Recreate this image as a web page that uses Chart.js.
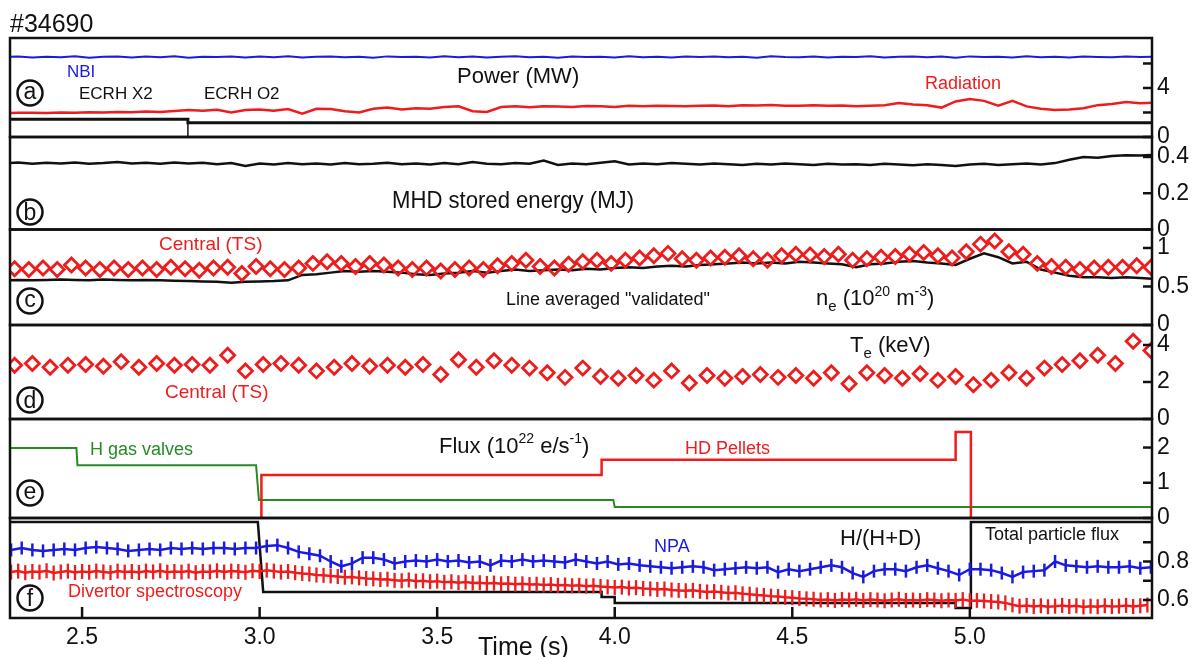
<!DOCTYPE html>
<html>
<head>
<meta charset="utf-8">
<script src="https://cdn.jsdelivr.net/npm/chart.js@4.4.1/dist/chart.umd.min.js"></script>
<style>
  html, body { margin: 0; padding: 0; background: #fff; }
  canvas { display: block; }
</style>
</head>
<body>
<canvas id="chart" width="1199" height="657"></canvas>
<script>
// Discharge #34690: six stacked time-trace panels sharing one time axis (s)

const timeMin = 2.297, timeMax = 5.513;
const timeTicks = [2.5, 3.0, 3.5, 4.0, 4.5, 5.0];

function grid(start, step, n) {
  const t = [];
  for (let i = 0; i < n; i++) t.push(+(start + step * i).toFixed(4));
  return t;
}
const traceTime = grid(2.28, 0.04, 82);
const tsNeTime = grid(2.31, 0.04, 81);
const tsTeTime = grid(2.31, 0.05, 65);
const npaTime = grid(2.30, 0.03, 108);
const divTime = grid(2.30, 0.02, 161);

// (a) heating and radiated power, MW
const nbiPower = [6.53,6.58,6.48,6.55,6.5,6.6,6.47,6.54,6.57,6.49,
  6.56,6.5,6.59,6.46,6.55,6.52,6.58,6.49,6.56,6.51,
  6.6,6.48,6.54,6.57,6.5,6.55,6.47,6.58,6.52,6.55,
  6.49,6.59,6.51,6.56,6.48,6.54,6.6,6.5,6.55,6.47,
  6.57,6.52,6.55,6.49,6.6,6.51,6.54,6.48,6.58,6.52,
  6.56,6.5,6.55,6.47,6.59,6.53,6.5,6.57,6.49,6.55,
  6.52,6.6,6.48,6.54,6.57,6.5,6.56,6.47,6.58,6.52,
  6.55,6.49,6.6,6.51,6.55,6.48,6.57,6.53,6.5,6.58,
  6.52,6.55];
const radiationPower = [1.95,1.97,1.98,1.96,2.0,1.98,2.02,2.0,2.05,2.03,
  2.08,2.05,2.12,2.2,2.15,2.22,2.0,2.2,2.25,2.15,
  2.28,1.9,2.3,2.28,2.1,2.0,2.3,2.4,2.25,2.35,
  2.3,2.45,2.5,2.1,2.05,2.45,2.5,2.42,2.5,2.48,
  2.45,2.52,2.5,2.45,2.55,2.5,2.55,2.52,2.5,2.55,
  2.58,2.5,2.6,2.58,2.62,2.55,2.55,2.6,2.55,2.58,
  2.5,2.55,2.6,2.78,2.65,2.6,2.4,2.9,3.1,2.95,
  2.55,2.95,2.5,2.3,2.2,2.25,2.35,2.6,2.7,2.85,
  2.75,2.8];
const ecrhTime = [2.28, 2.798, 2.798, 5.52];
const ecrhPower = [1.44, 1.44, 1.17, 1.17];
const ecrhO2Time = [2.28, 2.798, 2.798];
const ecrhO2Power = [0, 0, 1.17];

// (b) MHD stored energy, MJ
const storedEnergy = [0.365,0.37,0.362,0.368,0.364,0.37,0.362,0.366,0.372,0.364,
  0.368,0.362,0.37,0.364,0.368,0.36,0.366,0.35,0.364,0.358,
  0.366,0.36,0.364,0.358,0.366,0.36,0.362,0.368,0.36,0.364,
  0.358,0.366,0.36,0.372,0.363,0.36,0.366,0.362,0.38,0.356,
  0.364,0.36,0.368,0.376,0.358,0.364,0.36,0.366,0.362,0.358,
  0.364,0.36,0.356,0.362,0.358,0.364,0.36,0.356,0.362,0.358,
  0.36,0.356,0.362,0.358,0.354,0.36,0.356,0.35,0.358,0.362,
  0.356,0.36,0.364,0.358,0.366,0.385,0.4,0.395,0.405,0.41,
  0.408,0.412];

// (c) electron density, 1e20 m^-3
const lineAvgDensity = [0.58,0.585,0.58,0.585,0.59,0.585,0.58,0.59,0.585,0.58,
  0.585,0.58,0.575,0.57,0.565,0.56,0.55,0.56,0.565,0.57,
  0.58,0.65,0.66,0.68,0.7,0.69,0.7,0.69,0.68,0.66,
  0.65,0.67,0.68,0.7,0.68,0.7,0.72,0.7,0.71,0.72,
  0.71,0.73,0.72,0.74,0.75,0.74,0.76,0.77,0.76,0.78,
  0.79,0.8,0.81,0.8,0.81,0.8,0.82,0.81,0.8,0.79,
  0.75,0.79,0.8,0.82,0.83,0.81,0.8,0.78,0.86,0.93,
  0.88,0.8,0.82,0.72,0.68,0.64,0.62,0.62,0.61,0.62,
  0.61,0.6];
const centralDensity = [0.73,0.72,0.74,0.72,0.78,0.74,0.72,0.74,0.72,0.74,
  0.72,0.75,0.73,0.71,0.74,0.75,0.67,0.76,0.73,0.72,
  0.74,0.8,0.82,0.8,0.76,0.8,0.78,0.74,0.72,0.74,
  0.7,0.72,0.74,0.72,0.77,0.8,0.84,0.76,0.74,0.79,
  0.82,0.84,0.8,0.84,0.87,0.9,0.93,0.86,0.84,0.87,
  0.88,0.9,0.86,0.84,0.9,0.92,0.91,0.89,0.92,0.84,
  0.86,0.88,0.89,0.92,0.94,0.9,0.87,0.95,1.05,1.09,
  0.95,0.92,0.8,0.76,0.75,0.72,0.74,0.75,0.75,0.77,
  0.75];

// (d) central electron temperature, keV
const centralTe = [2.9,3.0,2.8,2.9,2.95,2.85,3.1,2.8,3.0,2.9,
  2.95,2.9,3.45,2.6,2.95,3.0,2.9,2.6,2.8,3.0,
  2.85,2.9,2.8,2.95,2.4,3.2,2.8,3.15,2.9,2.75,
  2.5,2.25,2.75,2.3,2.2,2.35,2.1,2.6,1.95,2.35,
  2.2,2.3,2.4,2.25,2.35,2.2,2.5,1.9,2.5,2.35,
  2.2,2.45,2.1,2.3,1.85,2.1,2.5,2.2,2.75,2.95,
  3.15,3.45,3.0,4.2,3.7];

// (e) fuelling flux, 1e22 e/s
const gasTime = [2.28, 2.484, 2.487, 2.990, 2.998, 3.996, 4.0, 5.52];
const gasFlux = [1.99, 1.99, 1.5, 1.5, 0.51, 0.51, 0.31, 0.31];
const pelletTime = [3.005, 3.005, 3.963, 3.963, 4.96, 4.96, 5.003, 5.003];
const pelletFlux = [0, 1.22, 1.22, 1.65, 1.65, 2.44, 2.44, 0];

// (f) isotope ratio H/(H+D) and total particle flux (relative)
const npaRatio = [0.86,0.87,0.86,0.855,0.86,0.865,0.86,0.87,0.875,0.87,
  0.865,0.855,0.86,0.865,0.86,0.87,0.865,0.87,0.865,0.87,
  0.87,0.865,0.87,0.87,0.88,0.885,0.87,0.85,0.84,0.83,
  0.8,0.775,0.79,0.82,0.82,0.81,0.79,0.8,0.805,0.8,
  0.81,0.8,0.805,0.795,0.8,0.78,0.805,0.8,0.81,0.8,
  0.805,0.8,0.795,0.81,0.8,0.79,0.8,0.785,0.79,0.78,
  0.775,0.77,0.765,0.77,0.775,0.77,0.755,0.76,0.765,0.77,
  0.765,0.77,0.745,0.76,0.75,0.76,0.77,0.78,0.77,0.74,
  0.72,0.75,0.76,0.76,0.75,0.77,0.78,0.765,0.75,0.73,
  0.76,0.76,0.755,0.74,0.72,0.745,0.75,0.755,0.8,0.78,
  0.775,0.77,0.775,0.77,0.77,0.775,0.765,0.77];
const divertorRatio = [0.745,0.75,0.742,0.748,0.745,0.752,0.74,0.746,0.75,0.743,
  0.748,0.744,0.75,0.746,0.742,0.75,0.745,0.748,0.743,0.75,
  0.746,0.752,0.744,0.748,0.745,0.75,0.742,0.748,0.746,0.752,
  0.745,0.75,0.748,0.744,0.752,0.748,0.755,0.75,0.745,0.748,
  0.742,0.738,0.735,0.73,0.728,0.725,0.722,0.718,0.72,0.715,
  0.712,0.71,0.706,0.708,0.702,0.7,0.704,0.698,0.7,0.695,
  0.698,0.692,0.695,0.69,0.693,0.688,0.69,0.686,0.688,0.684,
  0.686,0.682,0.684,0.68,0.682,0.678,0.68,0.676,0.678,0.674,
  0.676,0.672,0.674,0.67,0.668,0.665,0.667,0.662,0.664,0.66,
  0.658,0.655,0.657,0.652,0.65,0.648,0.65,0.645,0.642,0.644,
  0.64,0.636,0.638,0.632,0.63,0.626,0.624,0.62,0.618,0.614,
  0.612,0.608,0.606,0.604,0.6,0.602,0.598,0.603,0.6,0.604,
  0.598,0.602,0.6,0.596,0.6,0.604,0.598,0.6,0.597,0.602,
  0.6,0.596,0.6,0.598,0.602,0.596,0.598,0.595,0.592,0.59,
  0.585,0.575,0.568,0.572,0.566,0.57,0.565,0.568,0.572,0.566,
  0.57,0.564,0.568,0.565,0.57,0.566,0.568,0.572,0.566,0.57,
  0.574];
const fluxTime = [2.28, 2.995, 3.01, 3.963, 3.963, 4.0, 4.0, 4.96, 4.96, 5.003, 5.003, 5.52];
const totalFlux = [1.005, 1.005, 0.642, 0.642, 0.616, 0.616, 0.584, 0.584, 0.558, 0.558, 1.005, 1.005];

// right-hand axis ticks per panel
const ticksA = [0, 2, 4, 6], labelsA = {'0': '0', '4': '4'};
const ticksB = [0, 0.2, 0.4], labelsB = {'0': '0', '0.2': '0.2', '0.4': '0.4'};
const ticksC = [0, 0.5, 1], labelsC = {'0': '0', '0.5': '0.5', '1': '1'};
const ticksD = [0, 2, 4], labelsD = {'0': '0', '2': '2', '4': '4'};
const ticksE = [0, 1, 2], labelsE = {'0': '0', '1': '1', '2': '2'};
const ticksF = [0.6, 0.7, 0.8, 0.9], labelsF = {'0.6': '0.6', '0.8': '0.8'};

const FONT = '"Liberation Sans", Arial, sans-serif';
const ink = '#111111', red = '#ee1c1c', blue = '#1a1ae0', green = '#268a26';
Chart.defaults.font.family = FONT;

function pts(t, v) { return t.map((x, i) => ({ x, y: v[i] })); }

function panelScale(min, max, weight, ticks, labels) {
  return {
    type: 'linear', axis: 'y', position: 'right', stack: 'panels', stackWeight: weight,
    min, max,
    grid: { display: false, drawTicks: false },
    border: { display: false },
    afterBuildTicks: s => { s.ticks = ticks.map(v => ({ value: v })); },
    afterFit: s => { s.width = 47; },
    ticks: { autoSkip: false, padding: 5, color: ink, font: { size: 23 },
             callback: v => labels[String(v)] ?? '' }
  };
}

const panelIds = ['yA', 'yB', 'yC', 'yD', 'yE', 'yF'];

function line(data, yAxisID, color, width, extra) {
  return Object.assign({ type: 'line', data, yAxisID, xAxisID: 'x', borderColor: color,
    borderWidth: width, pointRadius: 0, tension: 0, fill: false }, extra || {});
}

const diamond = { showLine: false, pointStyle: 'rectRot', pointRadius: 7, pointBorderWidth: 2.8,
  pointBorderColor: red, pointBackgroundColor: 'rgba(255,255,255,0)' };

const datasets = [
  line(pts(tsNeTime, centralDensity), 'yC', red, 0, diamond),
  line(pts(traceTime, lineAvgDensity), 'yC', ink, 2.5),
  line(pts(tsTeTime, centralTe), 'yD', red, 0, diamond),
  line(pts(traceTime, nbiPower), 'yA', blue, 2),
  line(pts(traceTime, radiationPower), 'yA', red, 2.5),
  line(pts(ecrhTime, ecrhPower), 'yA', ink, 3),
  line(pts(ecrhO2Time, ecrhO2Power), 'yA', ink, 1.5),
  line(pts(traceTime, storedEnergy), 'yB', ink, 2.5),
  line(pts(pelletTime, pelletFlux), 'yE', red, 2.5),
  line(pts(gasTime, gasFlux), 'yE', green, 2),
  line(pts(npaTime, npaRatio), 'yF', blue, 2.5, { pointStyle: 'line', pointRotation: 90,
    pointRadius: 6.5, pointBorderWidth: 2.5, pointBorderColor: blue }),
  line(pts(divTime, divertorRatio), 'yF', red, 2.5, { pointStyle: 'line', pointRotation: 90,
    pointRadius: 7.5, pointBorderWidth: 2.3, pointBorderColor: red }),
  line(pts(fluxTime, totalFlux), 'yF', ink, 2.5)
];

// annotation text
const notes = [
  { text: '#34690', x: 10, y: 32, size: 25, color: ink },
  { text: 'NBI', x: 67, y: 77, size: 17, color: blue },
  { text: 'ECRH X2', x: 79, y: 99, size: 17, color: ink },
  { text: 'ECRH O2', x: 204, y: 99, size: 17, color: ink },
  { text: 'Power (MW)', x: 457, y: 83, size: 22, color: ink },
  { text: 'Radiation', x: 925, y: 89, size: 18, color: red },
  { text: 'MHD stored energy (MJ)', x: 392, y: 208, size: 24, color: ink, width: 242 },
  { text: 'Central (TS)', x: 159, y: 250, size: 19, color: red },
  { text: 'Line averaged "validated"', x: 506, y: 305, size: 18, color: ink },
  { text: 'Central (TS)', x: 165, y: 398, size: 19, color: red },
  { text: 'H gas valves', x: 90, y: 455, size: 18, color: green },
  { text: 'HD Pellets', x: 685, y: 454, size: 18, color: red },
  { text: 'NPA', x: 654, y: 552, size: 18, color: blue },
  { text: 'H/(H+D)', x: 840, y: 545, size: 22, color: ink },
  { text: 'Total particle flux', x: 985, y: 540, size: 18, color: ink },
  { text: 'Divertor spectroscopy', x: 68, y: 597, size: 18, color: red },
  { text: 'Time (s)', x: 478, y: 655, size: 25, color: ink }
];
const richNotes = [
  { x: 816, y: 305, parts: [['n', 22, 0], ['e', 15, 6], [' (10', 22, 0], ['20', 14, -9], [' m', 22, 0], ['-3', 14, -9], [')', 22, 0]] },
  { x: 850, y: 352, parts: [['T', 22, 0], ['e', 15, 6], [' (keV)', 22, 0]] },
  { x: 439, y: 453, parts: [['Flux (10', 22, 0], ['22', 14, -10], [' e/s', 22, 0], ['-1', 14, -10], [')', 22, 0]] }
];
const panelTags = [
  { letter: 'a', x: 30, y: 93 }, { letter: 'b', x: 30, y: 212 }, { letter: 'c', x: 30, y: 301 },
  { letter: 'd', x: 30, y: 400 }, { letter: 'e', x: 30, y: 493 }, { letter: 'f', x: 30, y: 598 }
];

const panelDecor = {
  id: 'panelDecor',
  beforeDraw(chart) {
    const c = chart.ctx;
    c.save(); c.fillStyle = '#fff'; c.fillRect(0, 0, chart.width, chart.height); c.restore();
  },
  afterDatasetsDraw(chart) {
    const c = chart.ctx, area = chart.chartArea;
    c.save();
    c.strokeStyle = ink; c.lineWidth = 2.5;
    panelIds.forEach(id => {
      const s = chart.scales[id];
      c.strokeRect(area.left, s.top, area.right - area.left, s.bottom - s.top);
      s.ticks.forEach(t => {
        const y = s.getPixelForValue(t.value);
        c.beginPath(); c.moveTo(area.right - 9, y); c.lineTo(area.right, y); c.stroke();
      });
    });
    const xs = chart.scales.x;
    timeTicks.forEach(v => {
      const x = xs.getPixelForValue(v);
      c.beginPath(); c.moveTo(x, area.bottom - 11); c.lineTo(x, area.bottom); c.stroke();
    });
    c.restore();
  },
  afterDraw(chart) {
    const c = chart.ctx;
    c.save();
    c.textBaseline = 'alphabetic'; c.textAlign = 'left';
    notes.forEach(n => {
      c.font = n.size + 'px ' + FONT;
      c.fillStyle = n.color;
      if (n.width) {
        const w = c.measureText(n.text).width;
        c.save(); c.translate(n.x, n.y); c.scale(n.width / w, 1); c.fillText(n.text, 0, 0); c.restore();
      } else {
        c.fillText(n.text, n.x, n.y);
      }
    });
    richNotes.forEach(r => {
      let cx = r.x;
      c.fillStyle = ink;
      r.parts.forEach(([t, size, dy]) => {
        c.font = size + 'px ' + FONT;
        c.fillText(t, cx, r.y + dy);
        cx += c.measureText(t).width;
      });
    });
    panelTags.forEach(p => {
      c.beginPath(); c.arc(p.x, p.y, 12.5, 0, Math.PI * 2);
      c.lineWidth = 2.5; c.strokeStyle = ink; c.stroke();
      c.font = '23px ' + FONT; c.fillStyle = ink; c.textAlign = 'center';
      const tall = 'bdf'.includes(p.letter);
      c.fillText(p.letter, p.x, p.y + (tall ? 8 : 6));
      c.textAlign = 'left';
    });
    c.restore();
  }
};

new Chart(document.getElementById('chart'), {
  data: { datasets },
  options: {
    responsive: false, animation: false, devicePixelRatio: 1,
    layout: { padding: { left: 10, top: 38, right: 0, bottom: 0 } },
    plugins: { legend: { display: false }, tooltip: { enabled: false } },
    scales: {
      x: {
        type: 'linear', position: 'bottom', min: timeMin, max: timeMax,
        grid: { display: false, drawTicks: false }, border: { display: false },
        afterBuildTicks: s => { s.ticks = timeTicks.map(v => ({ value: v })); },
        afterFit: s => { s.height = 39; },
        ticks: { autoSkip: false, maxRotation: 0, padding: 6, color: ink, font: { size: 23 },
                 callback: v => v.toFixed(1) }
      },
      yA: panelScale(0, 8.08, 99, ticksA, labelsA),
      yB: panelScale(0, 0.51, 92.5, ticksB, labelsB),
      yC: panelScale(0, 1.24, 95.5, ticksC, labelsC),
      yD: panelScale(0, 5.08, 94, ticksD, labelsD),
      yE: panelScale(0, 2.81, 99, ticksE, labelsE),
      yF: panelScale(0.5065, 1.026, 100, ticksF, labelsF)
    }
  },
  plugins: [panelDecor]
});
</script>
</body>
</html>
